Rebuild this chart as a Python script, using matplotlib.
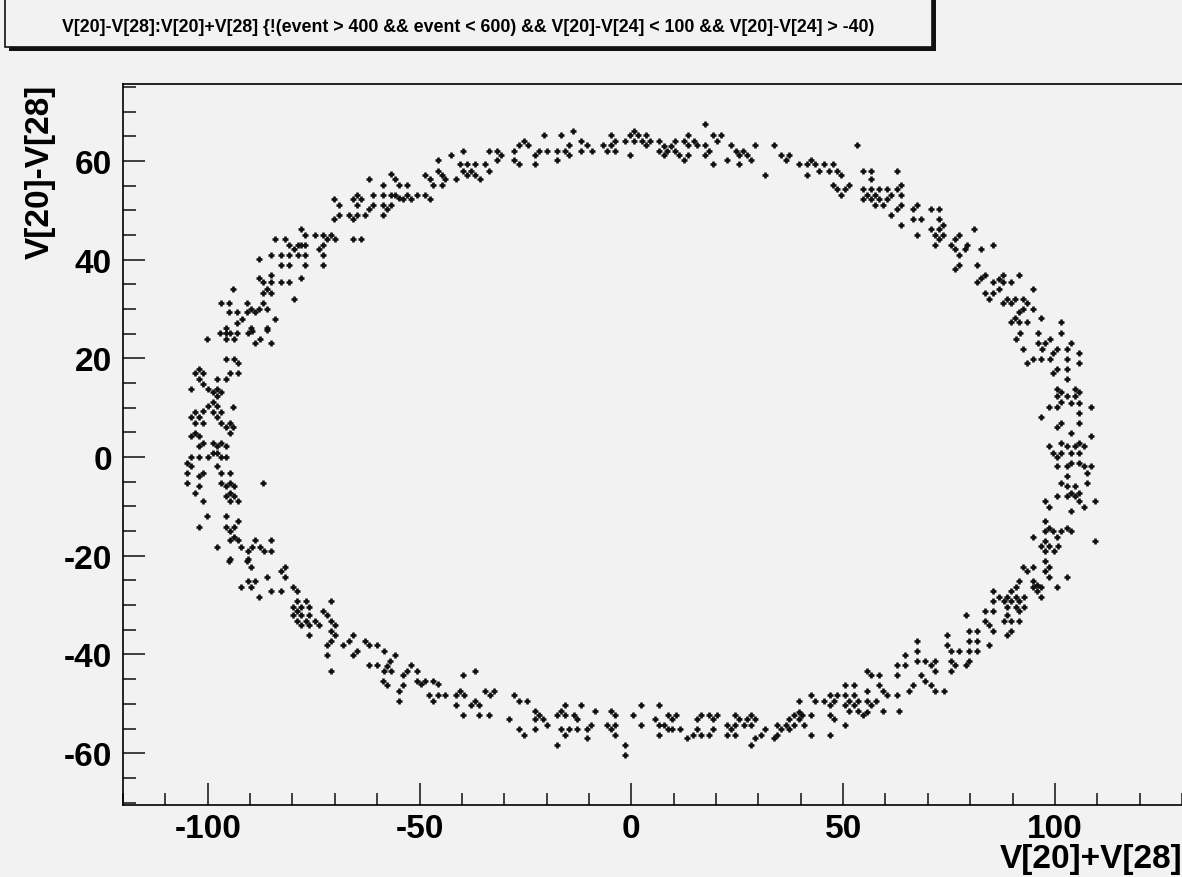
import matplotlib.pyplot as plt
import numpy as np
from matplotlib.patches import Rectangle
from matplotlib.ticker import MultipleLocator

plt.rcParams["font.family"] = ["Liberation Sans", "DejaVu Sans"]
plt.rcParams["font.weight"] = "bold"
plt.rcParams["axes.unicode_minus"] = False

# (V[20]+V[28], V[20]-V[28]), region by region
upper_left = [
    (-61.9, 56.4), (-56.8, 57.3), (-55.7, 56.4), (-58.6, 55.1), (-54.8, 55.1), (-52.9, 55.1),
    (-61.0, 53.1), (-58.6, 53.1), (-56.8, 53.1), (-55.7, 53.1), (-54.8, 52.6), (-53.9, 52.3),
    (-52.9, 53.1), (-52.0, 52.3), (-50.6, 53.1), (-65.7, 52.3), (-64.8, 53.1), (-63.8, 52.3),
    (-70.1, 52.3), (-69.0, 51.0), (-64.8, 51.0), (-61.0, 51.0), (-61.9, 50.2), (-58.6, 51.0),
    (-57.7, 50.2), (-56.8, 51.0), (-58.6, 49.0), (-62.8, 49.0), (-70.1, 48.2), (-69.0, 49.0),
    (-66.7, 49.0), (-65.7, 48.2), (-64.8, 49.0), (-77.9, 46.3), (-77.1, 45.0), (-74.7, 45.0),
    (-72.8, 45.0), (-71.9, 44.2), (-70.8, 45.0), (-69.9, 44.2), (-84.1, 44.2), (-81.7, 44.2),
    (-80.7, 42.9), (-79.7, 42.1), (-78.8, 42.9), (-77.9, 42.9), (-77.1, 42.9), (-73.8, 42.1),
    (-72.8, 42.9), (-65.7, 44.2), (-63.8, 44.2), (-87.9, 40.1), (-85.1, 41.0), (-82.7, 41.0),
    (-80.7, 41.0), (-78.8, 41.0), (-77.1, 41.0), (-72.8, 41.0), (-82.7, 38.9), (-80.7, 38.9),
    (-77.1, 38.9), (-72.8, 38.9), (-87.9, 36.2), (-87.0, 35.4), (-85.1, 36.9), (-85.1, 35.4),
    (-86.0, 34.0), (-87.0, 33.2), (-85.1, 33.2), (-82.7, 35.4), (-80.7, 35.4), (-78.0, 36.2),
    (-94.1, 34.0), (-79.7, 32.0), (-96.9, 31.3), (-94.9, 31.3), (-90.8, 31.3), (-87.0, 31.3),
    (-94.9, 29.3), (-93.0, 29.3), (-90.8, 29.3), (-89.8, 30.0), (-88.9, 29.3), (-87.9, 30.0),
    (-86.0, 30.0), (-84.1, 28.0), (-93.0, 27.2), (-91.9, 28.0), (-95.8, 26.2), (-89.8, 26.2),
    (-86.0, 26.2),
]

left_side = [
    (-97.0, 25.1), (-95.8, 25.1), (-94.8, 25.1), (-93.1, 25.1), (-90.6, 25.1), (-89.5, 25.6),
    (-86.0, 25.8), (-100.2, 23.9), (-95.8, 23.9), (-93.9, 23.9), (-88.8, 23.1), (-87.7, 23.9),
    (-85.1, 23.1), (-95.8, 19.9), (-93.9, 19.9), (-92.9, 19.1), (-102.0, 17.8), (-102.9, 17.0),
    (-101.0, 17.0), (-94.8, 17.0), (-92.9, 17.0), (-102.0, 15.8), (-97.8, 15.8), (-95.8, 15.8),
    (-103.9, 13.8), (-101.0, 14.8), (-100.0, 13.8), (-98.8, 13.1), (-97.8, 13.8), (-96.9, 13.1),
    (-97.8, 12.3), (-98.8, 11.1), (-97.8, 10.3), (-100.0, 10.3), (-94.0, 10.2), (-101.0, 9.4),
    (-102.9, 9.1), (-103.9, 8.2), (-102.0, 8.2), (-98.8, 9.1), (-96.9, 9.1), (-97.8, 8.2),
    (-102.9, 6.9), (-101.0, 6.9), (-96.9, 6.9), (-95.8, 6.0), (-94.8, 6.9), (-94.0, 6.0),
    (-94.8, 4.9), (-103.9, 4.2), (-102.9, 4.9), (-102.0, 4.2), (-101.0, 2.8), (-102.0, 2.2),
    (-98.8, 2.8), (-97.8, 2.2), (-96.9, 2.8), (-95.8, 2.2), (-97.8, 0.9), (-96.9, 0.1),
    (-95.8, 0.1), (-103.9, 0.1), (-102.0, 0.1), (-100.0, 0.1), (-98.8, 0.8), (-104.9, -1.1),
    (-103.9, -1.9), (-104.9, -3.2), (-101.0, -3.2), (-102.0, -3.9), (-97.8, -1.9), (-96.9, -3.2),
    (-94.8, -3.2), (-104.9, -5.3), (-102.0, -5.9), (-96.9, -5.3), (-95.8, -5.9), (-94.8, -5.3),
    (-93.9, -5.9), (-102.9, -7.3), (-95.8, -7.9), (-94.8, -7.3), (-93.9, -7.9), (-94.8, -8.9),
    (-92.9, -8.9), (-101.0, -8.9), (-87.0, -5.3), (-100.2, -12.0), (-95.8, -12.0),
    (-102.0, -14.1), (-95.8, -14.1), (-94.8, -14.9), (-93.9, -14.1), (-92.9, -12.9),
    (-94.8, -16.9), (-93.9, -16.1), (-92.9, -16.9), (-97.8, -18.3), (-92.1, -18.3),
    (-90.6, -19.0), (-89.5, -18.3), (-88.8, -16.9), (-87.7, -18.3), (-86.8, -19.0),
    (-85.1, -16.9), (-85.1, -19.0), (-94.8, -20.6), (-90.6, -20.6),
]

lower_left = [
    (-95.0, -21.0), (-90.7, -21.0), (-89.8, -22.2), (-86.0, -24.3), (-90.6, -25.1), (-88.8, -25.1),
    (-92.1, -26.3), (-89.7, -26.3), (-87.9, -28.3), (-85.1, -27.1), (-82.7, -27.1), (-82.7, -23.0),
    (-81.7, -22.2), (-81.7, -24.3), (-79.9, -26.3), (-78.9, -27.1), (-78.9, -29.1), (-76.9, -29.1),
    (-79.9, -30.3), (-78.9, -31.2), (-78.0, -30.3), (-76.0, -30.3), (-79.9, -32.0), (-78.0, -32.0),
    (-78.9, -33.2), (-78.0, -34.0), (-76.9, -33.2), (-76.0, -34.0), (-74.6, -33.2), (-73.7, -34.0),
    (-76.0, -32.0), (-76.0, -36.1), (-72.8, -31.2), (-71.8, -32.0), (-70.8, -29.1), (-70.8, -33.2),
    (-69.9, -34.0), (-70.8, -35.2), (-69.9, -36.1), (-71.8, -38.1), (-70.8, -37.2), (-71.8, -40.1),
    (-70.8, -43.3), (-68.1, -38.1), (-66.6, -37.2), (-65.7, -36.1), (-65.7, -40.1), (-64.8, -39.3),
    (-62.8, -37.2), (-61.9, -38.1), (-60.0, -38.1), (-58.5, -39.3), (-55.7, -40.1), (-56.9, -41.3),
    (-57.7, -42.3), (-61.9, -42.2), (-60.0, -42.2), (-58.5, -43.3), (-56.7, -43.3), (-58.6, -45.4),
    (-57.7, -46.2), (-53.9, -44.2), (-52.9, -43.3), (-52.0, -42.2), (-50.6, -43.3), (-50.6, -45.4),
    (-53.9, -46.2), (-54.8, -47.4), (-54.8, -49.5),
]

bottom_left = [
    (-49.6, -46.0), (-48.6, -45.3), (-46.7, -45.3), (-45.7, -46.0), (-47.7, -48.2), (-45.7, -48.2),
    (-46.7, -49.4), (-43.9, -48.2), (-41.5, -48.2), (-40.5, -47.4), (-39.6, -48.2), (-41.5, -50.3),
    (-39.7, -44.1), (-36.8, -43.3), (-39.7, -52.3), (-37.8, -50.3), (-36.8, -49.4), (-35.9, -50.3),
    (-35.9, -52.3), (-34.5, -47.4), (-33.4, -48.2), (-32.5, -47.4), (-33.5, -52.3), (-28.8, -53.0),
    (-27.8, -48.2), (-26.4, -49.4), (-24.6, -49.4), (-26.4, -55.0), (-25.4, -56.4), (-22.7, -51.4),
    (-21.8, -52.3), (-22.7, -53.0), (-20.9, -53.0), (-19.9, -54.3), (-22.7, -55.0), (-17.5, -52.3),
    (-16.5, -51.4), (-15.6, -50.3), (-15.6, -52.3), (-13.6, -52.3), (-12.8, -53.0), (-16.5, -55.0),
    (-15.6, -56.4), (-14.6, -55.0), (-12.8, -55.0), (-17.5, -58.4), (-11.8, -50.3), (-10.5, -55.0),
    (-9.5, -54.3), (-10.5, -57.0), (-8.5, -51.4), (-4.8, -51.4), (-3.8, -52.3), (-5.7, -54.3),
    (-4.8, -55.0), (-3.8, -54.3), (-3.8, -56.4), (-1.4, -58.4), (-1.4, -60.4), (0.4, -52.3),
    (2.3, -50.3), (2.3, -54.3), (5.7, -53.0), (6.5, -50.3), (6.5, -54.3), (6.5, -56.4),
]

bottom_right = [
    (7.6, -54.3), (8.6, -52.3), (9.5, -53.0), (10.5, -52.3), (8.6, -55.0), (9.5, -55.0),
    (11.4, -55.0), (13.1, -57.0), (14.6, -56.4), (15.5, -53.0), (16.4, -52.3), (15.5, -55.0),
    (16.4, -56.4), (18.3, -52.3), (19.3, -53.0), (20.2, -52.3), (19.3, -55.0), (18.3, -56.4),
    (22.6, -54.3), (23.5, -55.0), (24.5, -54.3), (22.6, -56.4), (24.5, -56.4), (24.5, -52.3),
    (25.4, -53.0), (26.5, -54.3), (27.3, -53.0), (28.2, -52.3), (29.3, -53.0), (28.2, -54.3),
    (28.2, -58.4), (29.3, -57.0), (30.5, -56.4), (31.6, -55.0), (33.6, -57.0), (34.4, -56.4),
    (34.4, -54.3), (35.3, -55.0), (36.4, -54.3), (37.3, -53.0), (37.3, -55.0), (38.5, -54.3),
    (38.5, -52.3), (39.5, -51.6), (40.4, -52.3), (39.5, -53.0), (40.7, -54.3), (39.5, -49.4),
    (42.5, -48.3), (43.4, -49.4), (42.5, -52.3), (42.5, -56.4), (45.4, -49.4), (46.8, -48.3),
    (47.8, -49.4), (46.8, -50.3), (48.6, -48.3), (46.8, -52.3), (47.8, -53.0), (46.8, -56.4),
    (50.5, -46.2), (52.5, -46.2), (50.5, -48.3), (52.5, -48.3), (51.5, -49.4), (50.5, -50.3),
    (52.5, -50.3), (53.4, -49.4), (51.5, -51.4), (53.4, -51.4), (55.6, -47.4), (55.6, -49.4),
    (56.6, -50.3), (57.7, -49.4), (54.7, -52.3), (55.6, -51.6), (50.5, -54.3), (55.6, -43.3),
    (56.6, -44.2), (58.5, -44.2), (58.5, -46.2), (59.4, -47.4), (60.4, -48.3), (59.4, -51.4),
    (62.7, -42.1), (62.7, -44.2), (62.7, -48.3), (63.3, -51.4),
]

lower_right = [
    (64.7, -40.1), (64.7, -42.2), (67.4, -37.2), (67.4, -39.3), (67.4, -41.3), (69.4, -41.3),
    (70.7, -42.2), (71.8, -41.3), (71.8, -43.3), (68.4, -44.2), (69.4, -45.4), (70.7, -46.2),
    (71.8, -47.4), (73.7, -47.4), (65.6, -47.4), (66.5, -46.2), (74.5, -36.1), (74.5, -38.1),
    (75.5, -39.3), (77.4, -39.3), (75.5, -41.3), (76.4, -42.2), (75.5, -43.3), (78.9, -32.0),
    (79.6, -35.2), (81.6, -35.2), (79.6, -37.2), (81.6, -37.2), (79.6, -39.3), (81.6, -39.3),
    (79.6, -41.3), (78.9, -42.2), (84.5, -38.1), (83.6, -31.2), (85.4, -31.2), (83.6, -33.2),
    (84.5, -34.1), (85.4, -35.2), (85.4, -29.1), (85.4, -27.1), (86.9, -28.3), (87.9, -29.1),
    (88.7, -28.3), (89.6, -29.1), (90.7, -28.3), (91.6, -29.1), (92.6, -28.3), (88.7, -30.3),
    (90.7, -30.3), (92.6, -30.3), (91.6, -31.2), (88.7, -32.0), (87.9, -33.2), (89.6, -33.2),
    (91.6, -33.2), (88.7, -36.1), (89.6, -35.2), (89.6, -27.1), (90.7, -26.3), (91.6, -25.1),
    (92.4, -22.2), (93.4, -23.0), (94.8, -22.2), (94.8, -25.1), (95.8, -25.9), (94.8, -26.3),
    (95.8, -27.1), (96.8, -26.3), (96.8, -28.3), (100.5, -26.3), (102.9, -24.3), (97.7, -23.0),
    (98.7, -22.2), (97.7, -21.0), (98.7, -24.3), (96.7, -18.1), (97.7, -19.0), (98.7, -18.1),
    (99.7, -19.0), (100.7, -18.1), (97.7, -17.0), (109.5, -17.0),
]

right_side = [
    (91.7, 25.1), (90.7, 23.9), (95.9, 25.1), (101.4, 25.1), (92.5, 21.9), (95.9, 23.1),
    (96.9, 21.9), (97.7, 23.1), (98.8, 23.9), (102.8, 21.9), (103.8, 23.1), (105.8, 21.1),
    (93.4, 19.1), (94.8, 19.9), (96.8, 19.9), (98.8, 19.9), (99.5, 21.1), (100.5, 21.9),
    (99.5, 17.0), (100.5, 17.8), (102.8, 19.9), (102.8, 17.8), (105.8, 19.1), (102.8, 15.8),
    (100.5, 13.8), (101.4, 13.1), (104.8, 13.8), (105.8, 13.1), (100.5, 12.3), (102.8, 12.3),
    (104.8, 12.3), (101.4, 11.1), (103.8, 11.0), (105.8, 11.0), (98.6, 10.1), (100.5, 10.1),
    (108.6, 10.1), (96.8, 8.2), (105.8, 8.9), (100.5, 6.0), (101.4, 6.9), (105.8, 6.9),
    (103.8, 4.9), (108.6, 4.2), (98.6, 2.2), (101.4, 2.8), (102.8, 2.2), (104.8, 2.2),
    (105.8, 2.8), (106.8, 2.2), (99.5, 0.9), (100.5, 0.1), (101.4, 0.8), (103.8, 0.8),
    (105.8, 0.8), (100.5, -1.9), (102.8, -1.9), (103.8, -1.2), (105.8, -1.2), (106.8, -1.9),
    (108.6, -1.9), (107.6, -3.2), (102.8, -3.9), (101.4, -5.3), (102.8, -5.9), (104.8, -5.9),
    (107.6, -5.3), (103.8, -7.3), (104.8, -7.9), (105.8, -7.3), (105.8, -8.9), (100.5, -7.9),
    (102.8, -7.9), (97.7, -8.9), (98.6, -10.2), (103.8, -10.9), (106.8, -10.2), (109.5, -8.9),
    (97.7, -12.9), (98.6, -14.3), (97.7, -14.9), (99.5, -14.9), (101.4, -14.9), (102.8, -14.3),
    (103.8, -14.9), (94.8, -16.2), (100.5, -16.2),
]

upper_right = [
    (54.8, 58.0), (56.6, 58.0), (62.7, 58.0), (56.6, 56.3), (54.8, 54.3), (56.6, 54.3),
    (58.5, 54.3), (60.4, 54.3), (55.6, 53.1), (57.6, 53.1), (54.8, 52.3), (56.6, 52.3),
    (58.5, 52.3), (60.4, 52.3), (61.3, 53.1), (62.7, 54.3), (63.7, 55.1), (63.7, 53.1),
    (57.6, 51.1), (59.4, 51.1), (61.3, 49.0), (62.7, 50.3), (63.7, 51.1), (63.7, 47.0),
    (66.5, 50.3), (67.4, 51.1), (66.5, 48.2), (68.4, 48.2), (70.7, 50.3), (72.6, 50.3),
    (72.6, 48.2), (70.7, 46.3), (72.6, 46.3), (73.6, 47.0), (67.4, 45.0), (71.7, 45.0),
    (72.6, 44.2), (73.6, 45.0), (71.7, 42.9), (75.5, 42.9), (76.4, 44.2), (77.4, 45.0),
    (76.4, 42.1), (77.4, 41.0), (79.2, 42.9), (78.8, 42.1), (80.8, 46.3), (82.5, 42.1),
    (85.4, 42.9), (76.4, 38.1), (77.4, 39.0), (81.6, 39.0), (81.6, 35.4), (82.5, 36.2),
    (83.5, 36.9), (85.4, 35.4), (86.8, 36.1), (87.7, 36.9), (87.7, 35.4), (89.6, 35.4),
    (91.5, 36.9), (83.5, 33.2), (85.4, 33.2), (86.8, 34.0), (84.4, 32.0), (87.7, 31.3),
    (88.7, 32.1), (90.6, 32.0), (89.6, 31.3), (92.5, 32.0), (93.4, 31.3), (94.8, 34.0),
    (92.5, 30.0), (91.5, 29.3), (90.6, 28.1), (89.6, 27.3), (91.5, 27.3), (93.4, 27.3),
    (94.8, 30.0), (96.7, 28.1), (101.4, 27.3),
]

top_right = [
    (7.6, 63.1), (8.4, 62.1), (7.6, 61.3), (9.4, 63.1), (10.4, 64.1), (10.4, 62.1),
    (11.3, 61.3), (12.4, 64.1), (13.3, 65.3), (13.3, 63.3), (12.4, 60.1), (13.3, 61.3),
    (14.7, 64.1), (15.5, 63.3), (17.5, 67.4), (17.5, 63.3), (18.4, 62.1), (17.5, 61.3),
    (19.3, 65.3), (21.2, 65.3), (20.2, 64.1), (19.3, 59.3), (22.6, 60.1), (23.5, 63.3),
    (24.6, 62.1), (25.5, 61.3), (26.4, 62.1), (27.3, 61.3), (28.3, 60.1), (25.5, 59.3),
    (29.3, 63.3), (31.6, 57.2), (33.6, 63.3), (35.3, 61.3), (37.3, 61.3), (36.4, 60.1),
    (39.5, 59.3), (41.5, 59.3), (42.5, 60.1), (43.4, 59.3), (41.5, 57.2), (44.4, 58.0),
    (45.4, 59.3), (46.6, 58.0), (47.6, 59.3), (48.6, 58.0), (49.5, 57.2), (47.6, 55.1),
    (48.6, 54.3), (49.5, 53.1), (50.5, 54.3), (51.5, 55.1), (53.3, 63.3),
]

top_left = [
    (-48.6, 57.2), (-47.6, 56.3), (-46.7, 55.1), (-48.6, 53.1), (-47.6, 52.3), (-45.7, 60.1),
    (-45.7, 58.0), (-44.7, 57.2), (-43.9, 56.3), (-44.7, 55.1), (-42.6, 61.3), (-41.5, 56.3),
    (-39.7, 62.1), (-40.5, 59.3), (-39.7, 58.0), (-38.8, 59.3), (-38.8, 57.2), (-37.8, 58.0),
    (-36.8, 59.3), (-36.8, 57.2), (-35.8, 56.3), (-34.5, 59.3), (-33.7, 58.0), (-33.5, 62.1),
    (-31.6, 62.1), (-31.6, 60.1), (-30.7, 61.3), (-27.8, 62.1), (-27.8, 60.1), (-26.4, 59.3),
    (-26.4, 63.3), (-25.4, 64.1), (-24.5, 63.3), (-22.7, 59.3), (-22.7, 61.3), (-21.7, 62.1),
    (-20.7, 65.3), (-19.9, 62.1), (-17.5, 62.1), (-17.5, 60.1), (-16.6, 65.3), (-15.6, 62.1),
    (-14.6, 63.3), (-14.6, 61.3), (-13.8, 66.1), (-11.8, 64.1), (-11.8, 62.1), (-10.5, 63.3),
    (-9.4, 62.1), (-6.7, 63.3), (-5.7, 62.1), (-4.8, 65.3), (-4.8, 63.3), (-3.8, 64.1),
    (-3.8, 62.1), (-1.4, 64.1), (-0.4, 65.3), (-0.4, 61.3), (0.6, 66.1), (1.5, 65.3),
    (0.6, 64.1), (2.5, 64.1), (3.5, 65.3), (3.5, 63.3), (4.4, 64.1), (6.5, 64.1), (6.5, 62.1),
]

title = ("V[20]-V[28]:V[20]+V[28] {!(event > 400 && event < 600) "
         "&& V[20]-V[24] < 100 && V[20]-V[24] > -40)")

regions = [upper_left, left_side, lower_left, bottom_left, bottom_right,
           lower_right, right_side, upper_right, top_right, top_left]
pts = np.array([p for r in regions for p in r])

BG = "#f2f2f2"
W, H = 1182, 878
fig = plt.figure(figsize=(W / 100, H / 100), dpi=100, facecolor=BG)
ax = fig.add_axes([123 / W, 1 - 806 / H, 1 - 123 / W, (806 - 85) / H])
ax.set_facecolor(BG)

ax.scatter(pts[:, 0], pts[:, 1], marker="+", s=24, c="#111111", linewidths=1.9)

ax.set_xlim(-120, 130)
ax.set_ylim(-70.5, 75.6)
ax.xaxis.set_major_locator(MultipleLocator(50))
ax.xaxis.set_minor_locator(MultipleLocator(10))
ax.yaxis.set_major_locator(MultipleLocator(20))
ax.yaxis.set_minor_locator(MultipleLocator(5))
ax.tick_params(which="both", direction="in", top=False, right=False,
               labelsize=24, width=1.2, color="#222222")
ax.tick_params(which="major", length=16, pad=6)
ax.tick_params(which="minor", length=9)
ax.tick_params(axis="y", pad=8)
for lab in ax.get_xticklabels() + ax.get_yticklabels():
    lab.set_fontweight("bold")
for s in ["left", "bottom", "top"]:
    ax.spines[s].set_linewidth(1.2)
ax.spines["right"].set_visible(False)

fig.text(1.0, 10 / H, "V[20]+V[28]", ha="right", va="baseline",
         fontsize=24, fontweight="bold")
fig.text(40 / W, 1 - 85 / H, "V[20]-V[28]", ha="center", va="top",
         rotation=90, fontsize=24, fontweight="bold")

# title box with ROOT-style shadow
shadow = Rectangle((9 / W, 1 - 52 / H), 927 / W, 80 / H, transform=fig.transFigure,
                   facecolor="#111111", edgecolor="none", zorder=0)
box = Rectangle((5 / W, 1 - 48 / H), 927 / W, 80 / H, transform=fig.transFigure,
                facecolor=BG, edgecolor="#111111", linewidth=1.2, zorder=1)
fig.patches.extend([shadow, box])
fig.text(468 / W, 1 - 27 / H, title, ha="center", va="center",
         fontsize=12.8, fontweight="bold", zorder=2)

fig.savefig("out.png", dpi=100, facecolor=BG)
